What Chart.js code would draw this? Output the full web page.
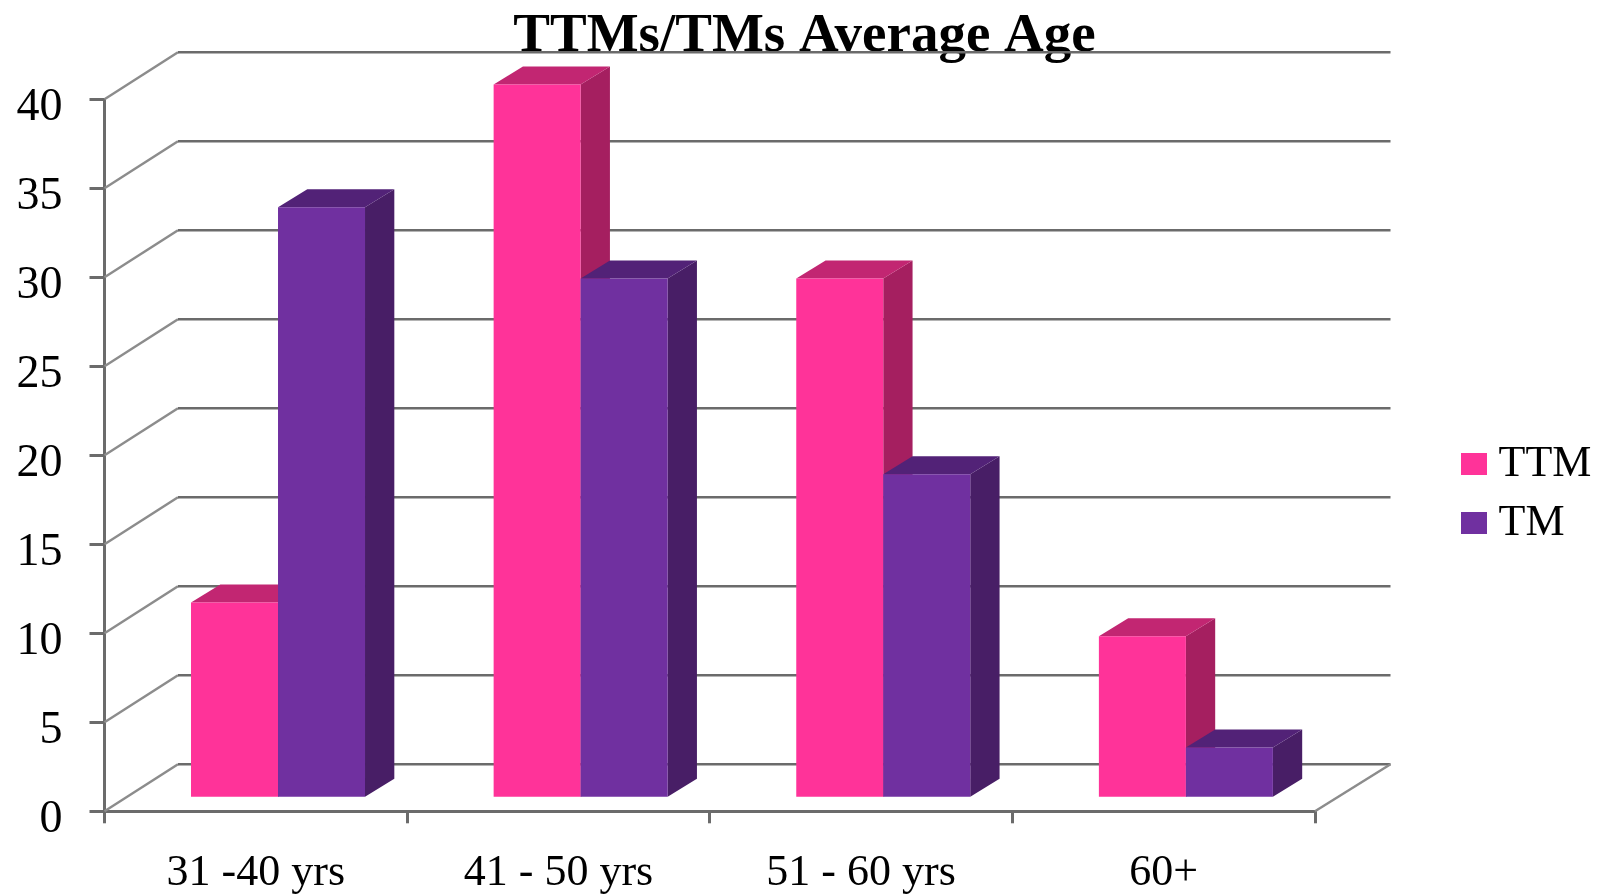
<!DOCTYPE html>
<html>
<head>
<meta charset="utf-8">
<title>TTMs/TMs Average Age</title>
<script src="https://cdn.jsdelivr.net/npm/chart.js@4/dist/chart.umd.min.js"></script>
<style>
    html, body { margin: 0; padding: 0; background: #fff; overflow: hidden; }
    canvas { display: block; }
</style>
</head>
<body>
<canvas id="myChart" width="1599" height="894"></canvas>
<script>
// values
const categories = ['31 -40 yrs', '41 - 50 yrs', '51 - 60 yrs', '60+'];
const ttmValues = [11, 40.1, 29.2, 9.1];
const tmValues = [33.2, 29.2, 18.2, 2.85];
const seriesNames = ['TTM', 'TM'];
const chartTitle = 'TTMs/TMs Average Age';

const faceColors = ['#FF3399', '#7030A0'];
const sideColors = ['#A51F60', '#481E66'];
const topColors = ['#C22672', '#522277'];
const axisColor = '#6b6b6b';
const slantColor = '#8c8c8c';
const serif = '"Liberation Serif", serif';

// fake 3D: how far the back wall and the bar fronts sit from the axes
const wallDx = 73.5, wallRightDx = 75.5, wallDy = -47;
const frontDx = 22.2, frontDy = -13;
const depthDx = 29.3, depthDy = -18;

function fillPoly(ctx, color, pts) {
    ctx.fillStyle = color;
    ctx.beginPath();
    pts.forEach(([x, y], i) => i ? ctx.lineTo(x, y) : ctx.moveTo(x, y));
    ctx.closePath();
    ctx.fill();
}

const fake3d = {
    id: 'fake3d',
    afterLayout(chart) {
        // legend sits right of the plot, title is centred over the bars
        const legend = chart.legend;
        legend.left = 1456.5;
        legend.top = 427;
        legend.right = 1599;
        legend.bottom = 894;
        chart.titleBlock.left += 147;
        chart.titleBlock.right += 147;
    },
    beforeDatasetsDraw(chart) {
        const { ctx, chartArea, scales: { y } } = chart;

        // back wall grid, one line per y tick
        ctx.save();
        y.ticks.forEach((tick) => {
            const py = y.getPixelForValue(tick.value);
            ctx.lineWidth = 2.5;
            ctx.strokeStyle = slantColor;
            ctx.beginPath();
            ctx.moveTo(chartArea.left, py);
            ctx.lineTo(chartArea.left + wallDx, py + wallDy);
            ctx.stroke();
            ctx.lineWidth = 2.5;
            ctx.strokeStyle = axisColor;
            ctx.beginPath();
            ctx.moveTo(chartArea.left + wallDx, py + wallDy);
            ctx.lineTo(chartArea.right + wallRightDx, py + wallDy);
            ctx.stroke();
        });
        // floor edge on the right
        const py0 = y.getPixelForValue(0);
        ctx.lineWidth = 2.5;
        ctx.strokeStyle = slantColor;
        ctx.beginPath();
        ctx.moveTo(chartArea.right, py0);
        ctx.lineTo(chartArea.right + wallRightDx, py0 + wallDy);
        ctx.stroke();

        // bars, TTM first so the TM block covers its side
        ctx.translate(frontDx, frontDy);
        chart.data.datasets.forEach((ds, d) => {
            chart.getDatasetMeta(d).data.forEach((bar) => {
                const { x, y: top, base, width } = bar.getProps(['x', 'y', 'base', 'width'], true);
                const l = x - width / 2, r = x + width / 2;
                fillPoly(ctx, sideColors[d], [[r, top], [r + depthDx, top + depthDy], [r + depthDx, base + depthDy], [r, base]]);
                fillPoly(ctx, topColors[d], [[l, top], [l + depthDx, top + depthDy], [r + depthDx, top + depthDy], [r, top]]);
                bar.draw(ctx);
            });
        });
        ctx.restore();
        return false;
    }
};

new Chart(document.getElementById('myChart').getContext('2d'), {
    type: 'bar',
    data: {
        labels: categories,
        datasets: [
            { label: seriesNames[0], data: ttmValues, backgroundColor: faceColors[0] },
            { label: seriesNames[1], data: tmValues, backgroundColor: faceColors[1] }
        ]
    },
    options: {
        responsive: false,
        animation: false,
        devicePixelRatio: 1,
        barPercentage: 1,
        categoryPercentage: 0.575,
        layout: { padding: { left: 0, right: 284, top: 0, bottom: 0 } },
        plugins: {
            tooltip: { enabled: false },
            title: {
                display: true,
                text: chartTitle,
                color: '#000',
                font: { family: serif, size: 55, weight: 'bold', lineHeight: 1.2 },
                padding: { top: 4, bottom: 29.3 }
            },
            legend: {
                position: 'chartArea',
                align: 'start',
                labels: {
                    color: '#000',
                    font: { family: serif, size: 44 },
                    // thin box with a fat stroke: keeps the text close to the swatch
                    boxWidth: 5,
                    boxHeight: 1,
                    padding: 15,
                    generateLabels(chart) {
                        return Chart.defaults.plugins.legend.labels.generateLabels(chart)
                            .map((item) => ({ ...item, strokeStyle: item.fillStyle, lineWidth: 21 }));
                    }
                }
            }
        },
        scales: {
            x: {
                offset: true,
                grid: { offset: true, drawOnChartArea: false, drawTicks: true, tickLength: 12, color: axisColor, lineWidth: 3 },
                border: { color: axisColor, width: 3 },
                ticks: { color: '#000', font: { family: serif, size: 44 }, padding: 24, maxRotation: 0 },
                afterFit(scale) { scale.height = 82.7; }
            },
            y: {
                min: 0,
                max: 40,
                grid: { drawOnChartArea: false, drawTicks: true, tickLength: 15, color: axisColor, lineWidth: 3 },
                border: { color: axisColor, width: 3 },
                ticks: { stepSize: 5, color: '#000', font: { family: serif, size: 46 }, padding: 27, labelOffset: 9 },
                afterFit(scale) { scale.width = 104.5; }
            }
        }
    },
    plugins: [fake3d]
});
</script>
</body>
</html>
